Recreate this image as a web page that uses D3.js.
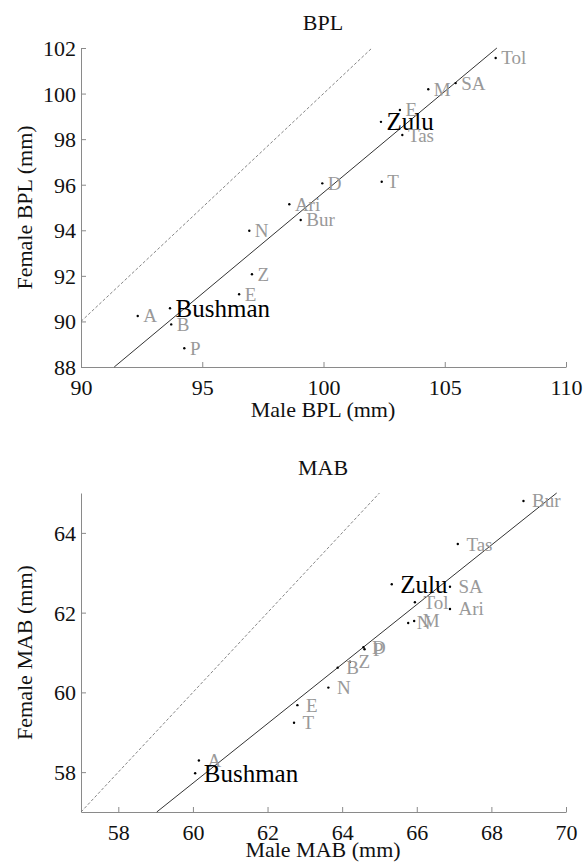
<!DOCTYPE html>
<html>
<head>
<meta charset="utf-8">
<script src="https://cdn.jsdelivr.net/npm/d3@7"></script>
<style>
  body { margin: 0; background: #fff; }
</style>
</head>
<body>
<svg id="chart" width="584" height="863"></svg>
<script>
// group labels, male / female means (mm)
var bplGroups = ["Tol","SA","M","E","Zulu","Tas","D","T","Ari","Bur","N","Z","E","Bushman","A","B","P"];
var bplMale   = [107.1,105.45,104.32,103.15,102.37,103.25,99.95,102.4,98.59,99.06,96.94,97.05,96.52,93.67,92.34,93.72,94.26];
var bplFemale = [101.56,100.46,100.19,99.28,98.76,98.18,96.06,96.13,95.14,94.45,93.98,92.07,91.19,90.58,90.24,89.87,88.82];

var mabGroups = ["Bur","Tas","Zulu","SA","Tol","Ari","N","M","D","P","B","Z","N","E","T","A","Bushman"];
var mabMale   = [68.86,67.10,65.33,66.89,65.95,66.89,65.77,65.93,64.57,64.6,63.88,64.21,63.63,62.80,62.71,60.16,60.06];
var mabFemale = [64.80,63.72,62.71,62.65,62.26,62.09,61.74,61.79,61.13,61.08,60.62,60.77,60.12,59.68,59.24,58.29,57.97];

var focusGroups = ["Zulu","Bushman"];

// fitted line and y = x line endpoints
var bplFit = [[91.37,88],[107.15,102]];
var bplEqual = [[90,90],[102,102]];
var mabFit = [[59.03,57],[69.75,65]];
var mabEqual = [[57,57],[65,65]];

var bplXTicks = [90,95,100,105,110];
var bplYTicks = [88,90,92,94,96,98,100,102];
var mabXTicks = [58,60,62,64,66,68,70];
var mabYTicks = [58,60,62,64];

var serif = "Liberation Serif, Times New Roman, Times, Tinos, Noto Serif, DejaVu Serif, FreeSerif, serif";
var svg = d3.select("#chart").style("font-family", serif);

function drawPanel(opt) {
    var x = d3.scaleLinear().domain(opt.xDomain).range([81, 566]);
    var y = d3.scaleLinear().domain(opt.yDomain).range([opt.bottom, opt.top]);
    var g = svg.append("g");

    var xAxis = g.append("g")
        .attr("transform", "translate(0," + opt.bottom + ")")
        .call(d3.axisBottom(x).tickValues(opt.xTicks).tickSizeInner(-5).tickSizeOuter(0).tickPadding(12));
    var yAxis = g.append("g")
        .attr("transform", "translate(81,0)")
        .call(d3.axisLeft(y).tickValues(opt.yTicks).tickSizeInner(-5).tickSizeOuter(0).tickPadding(5));
    [xAxis, yAxis].forEach(function(a){
        a.attr("font-family", null).attr("font-size", 22);
        a.select(".domain").attr("stroke", "#8a8a8a");
        a.selectAll(".tick line").attr("stroke", "#8a8a8a");
        a.selectAll("text").attr("fill", "#111").style("font-family", serif);
    });
    yAxis.selectAll("text").attr("dy", "0.34em");
    xAxis.selectAll("text").attr("dy", "0.71em");

    var line = d3.line().x(function(d){ return x(d[0]); }).y(function(d){ return y(d[1]); });
    g.append("path").datum(opt.equal)
        .attr("d", line).attr("fill", "none")
        .attr("stroke", "#777").attr("stroke-width", 0.9).attr("stroke-dasharray", "3,2");
    g.append("path").datum(opt.fit)
        .attr("d", line).attr("fill", "none")
        .attr("stroke", "#333").attr("stroke-width", 1);

    var data = opt.groups.map(function(n, i){ return {name: n, m: opt.male[i], f: opt.female[i]}; });

    g.selectAll(".pt").data(data).enter().append("circle")
        .attr("cx", function(d){ return x(d.m); })
        .attr("cy", function(d){ return y(d.f); })
        .attr("r", 1.2).attr("fill", "#000");

    g.selectAll(".lbl").data(data).enter().append("text")
        .attr("x", function(d){ return x(d.m + 0.23); })
        .attr("y", function(d){ return y(d.f); })
        .attr("dy", "0.34em")
        .style("font-family", serif)
        .attr("font-size", function(d){ return focusGroups.indexOf(d.name) >= 0 ? 25 : 19; })
        .attr("fill", function(d){ return focusGroups.indexOf(d.name) >= 0 ? "#000" : "#999"; })
        .text(function(d){ return d.name; });

    // title and axis labels
    g.append("text").attr("x", 323).attr("y", opt.top - 18)
        .attr("text-anchor", "middle").attr("font-size", 22).attr("fill", "#111")
        .style("font-family", serif)
        .text(opt.title);
    g.append("text").attr("x", 323).attr("y", opt.bottom + opt.labelGap)
        .attr("text-anchor", "middle").attr("font-size", 22).attr("fill", "#111")
        .style("font-family", serif)
        .text("Male " + opt.title + " (mm)");
    g.append("text")
        .attr("transform", "translate(32," + ((opt.top + opt.bottom) / 2) + ") rotate(-90)")
        .attr("text-anchor", "middle").attr("font-size", 22).attr("fill", "#111")
        .style("font-family", serif)
        .text("Female " + opt.title + " (mm)");
}

drawPanel({
    title: "BPL", xDomain: [90,110], yDomain: [88,102], top: 48, bottom: 367, labelGap: 50,
    xTicks: bplXTicks, yTicks: bplYTicks,
    groups: bplGroups, male: bplMale, female: bplFemale,
    fit: bplFit, equal: bplEqual
});

drawPanel({
    title: "MAB", xDomain: [57,70], yDomain: [57,65], top: 493, bottom: 812, labelGap: 45,
    xTicks: mabXTicks, yTicks: mabYTicks,
    groups: mabGroups, male: mabMale, female: mabFemale,
    fit: mabFit, equal: mabEqual
});
</script>
</body>
</html>
